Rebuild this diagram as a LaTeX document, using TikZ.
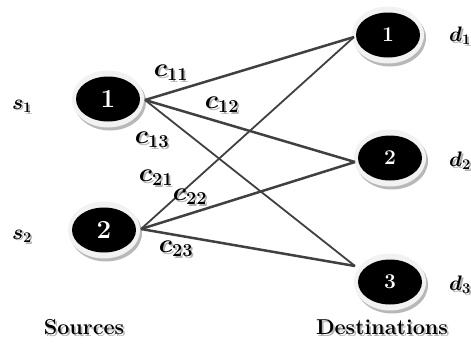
\RequirePackage{fix-cm}
\documentclass[tikz,border=0pt]{standalone}
\usepackage{amsmath,bm}
\usetikzlibrary{shapes.geometric,calc}
\begin{document}
\begin{tikzpicture}[x=1pt,y=-1pt,
  nd/.style={ellipse, minimum width=64pt, minimum height=45pt, inner sep=0pt},
  edge/.style={draw=black!75, line width=2.5pt},
  thinedge/.style={draw=black!75, line width=1.8pt},
  lbl/.style={inner sep=0pt, font=\fontsize{26}{26}\selectfont\boldmath},
  smlbl/.style={inner sep=0pt, font=\fontsize{21}{21}\selectfont\boldmath},
  captext/.style={inner sep=0pt, font=\fontsize{21.5}{21.5}\selectfont\bfseries}]
\useasboundingbox (0,0) rectangle (471,343);
\newcommand{\shadowtext}[4]{%
  \node[#1, text=black!30] at ($(#2)+(1.8,1.8)$) {#3};
  \node[#1] (#4) at (#2) {#3};}
\newcommand{\disk}[4]{%
  \fill[black!28] ($(#1)+(2,3)$) ellipse (36 and 28.5);
  \fill[black!5] (#1) ellipse (36 and 28.5);
  \node[nd, fill=black, text=white, font=\fontsize{#3}{#3}\selectfont\bfseries] (#2) at (#1) {#4};}
% nodes
\disk{108,99}{s1}{26}{1}
\disk{104,230}{s2}{26}{2}
\disk{388,35}{d1}{21}{1}
\disk{390,158}{d2}{21}{2}
\disk{390,282}{d3}{21}{3}
% connector end points
\coordinate (a1) at (145,100);
\coordinate (a2) at (141,229);
\coordinate (b1) at (354,37);
\coordinate (b2) at (355,162);
\coordinate (b3) at (355,266);
\draw[edge] (a1) -- (b1);
\draw[edge] (a1) -- (b2);
\draw[thinedge] (a1) -- (b3);
\draw[thinedge] (a2) -- (b1);
\draw[edge] (a2) -- (b2);
\draw[edge] (a2) -- (b3);
% labels
\shadowtext{lbl}{171,73}{$c_{11}$}{c11}
\shadowtext{lbl}{222,105}{$c_{12}$}{c12}
\shadowtext{lbl}{152,140}{$c_{13}$}{c13}
\shadowtext{lbl}{156,178}{$c_{21}$}{c21}
\shadowtext{lbl}{190,197}{$c_{22}$}{c22}
\shadowtext{lbl}{176,249}{$c_{23}$}{c23}
\shadowtext{smlbl}{22,106}{$s_1$}{ls1}
\shadowtext{smlbl}{22,236}{$s_2$}{ls2}
\shadowtext{smlbl}{460,36}{$d_1$}{ld1}
\shadowtext{smlbl}{460,161}{$d_2$}{ld2}
\shadowtext{smlbl}{460,285}{$d_3$}{ld3}
\shadowtext{captext}{84,327}{Sources}{src}
\shadowtext{captext}{382,327}{Destinations}{dst}
\end{tikzpicture}
\end{document}
